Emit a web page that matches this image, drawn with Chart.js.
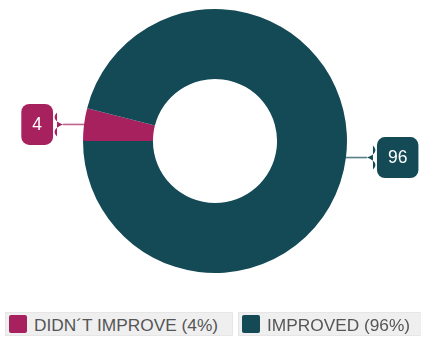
<!DOCTYPE html>
<html>
<head>
<meta charset="utf-8">
<script src="https://cdn.jsdelivr.net/npm/chart.js@4"></script>
<style>
  html, body { margin: 0; padding: 0; background: #fff; }
  #wrap { position: relative; width: 421px; height: 339px; overflow: hidden; }
  #c { position: absolute; left: 0; top: 0; }
  .lg { position: absolute; top: 312px; height: 24px; background: #efefef; border: 1px solid #e6e6e6; box-sizing: border-box;
        font-family: "Liberation Sans", Arial, sans-serif; font-size: 17.3px; color: #555; white-space: nowrap; }
  .lg .sw { position: absolute; left: 3px; top: 2px; width: 18px; height: 18px; border-radius: 2px; }
  .lg .tx { position: absolute; left: 28px; top: 1px; line-height: 22px; }
</style>
</head>
<body>
<div id="wrap">
  <canvas id="c" width="421" height="339"></canvas>
  <div id="legend"></div>
</div>
<script>
const categories = ["DIDN\u00B4T IMPROVE", "IMPROVED"];
const values = [4, 96];
const sliceColors = ["#A8215F", "#134A56"];

const total = values.reduce((a, b) => a + b, 0);

// HTML legend built from the data
const legendLayout = [ {left: 5, width: 228}, {left: 238, width: 190} ];
const legendEl = document.getElementById('legend');
categories.forEach((cat, i) => {
  const pct = Math.round(values[i] / total * 100);
  const item = document.createElement('div');
  item.className = 'lg';
  item.style.left = legendLayout[i].left + 'px';
  item.style.width = legendLayout[i].width + 'px';
  const sw = document.createElement('div');
  sw.className = 'sw';
  sw.style.background = sliceColors[i];
  const tx = document.createElement('div');
  tx.className = 'tx';
  tx.textContent = cat + ' (' + pct + '%)';
  item.appendChild(sw);
  item.appendChild(tx);
  legendEl.appendChild(item);
});

const calloutPlugin = {
  id: 'callouts',
  afterDatasetsDraw(chart) {
    const ctx = chart.ctx;
    const meta = chart.getDatasetMeta(0);
    meta.data.forEach((arc, i) => {
      const p = arc.getProps(['x', 'y', 'startAngle', 'endAngle', 'outerRadius'], true);
      const mid = (p.startAngle + p.endAngle) / 2;
      const px = p.x + Math.cos(mid) * p.outerRadius;
      const py = p.y + Math.sin(mid) * p.outerRadius;
      const dir = Math.cos(mid) < 0 ? -1 : 1;
      const tipX = px + dir * 21;
      const cy = py;
      const color = sliceColors[i];
      // leader line
      ctx.save();
      ctx.strokeStyle = color;
      ctx.globalAlpha = 0.7;
      ctx.lineWidth = 1.6;
      ctx.beginPath();
      ctx.moveTo(px, py);
      ctx.lineTo(tipX, cy);
      ctx.stroke();
      ctx.globalAlpha = 1;
      // box
      const text = String(values[i]);
      ctx.font = '17.5px "Liberation Sans", Arial, sans-serif';
      const tw = ctx.measureText(text).width;
      const bw = tw + 22, bh = 41, r = 8, tab = 10;
      const edge = tipX + dir * tab;
      const bx = dir < 0 ? edge - bw : edge;
      const by = cy - bh / 2;
      ctx.fillStyle = color;
      ctx.beginPath();
      ctx.roundRect(bx, by, bw, bh, r);
      ctx.fill();
      // tab pointing to the line
      ctx.beginPath();
      ctx.moveTo(edge - dir * 4, cy - 12);
      ctx.quadraticCurveTo(edge + dir * 3, cy - 5, tipX, cy);
      ctx.quadraticCurveTo(edge + dir * 3, cy + 5, edge - dir * 4, cy + 12);
      ctx.closePath();
      ctx.fill();
      ctx.fillStyle = '#ffffff';
      ctx.textAlign = 'center';
      ctx.textBaseline = 'middle';
      ctx.fillText(text, bx + bw / 2, cy + 1);
      ctx.restore();
    });
  }
};

new Chart(document.getElementById('c'), {
  type: 'doughnut',
  data: {
    labels: categories,
    datasets: [{
      data: values,
      backgroundColor: sliceColors,
      borderWidth: 0,
      hoverOffset: 0
    }]
  },
  options: {
    responsive: false,
    animation: false,
    rotation: 270,
    cutout: '47%',
    layout: { padding: { top: 9, left: 9, right: 0, bottom: 66 } },
    plugins: {
      legend: { display: false },
      tooltip: { enabled: false }
    },
    events: []
  },
  plugins: [calloutPlugin]
});
</script>
</body>
</html>
